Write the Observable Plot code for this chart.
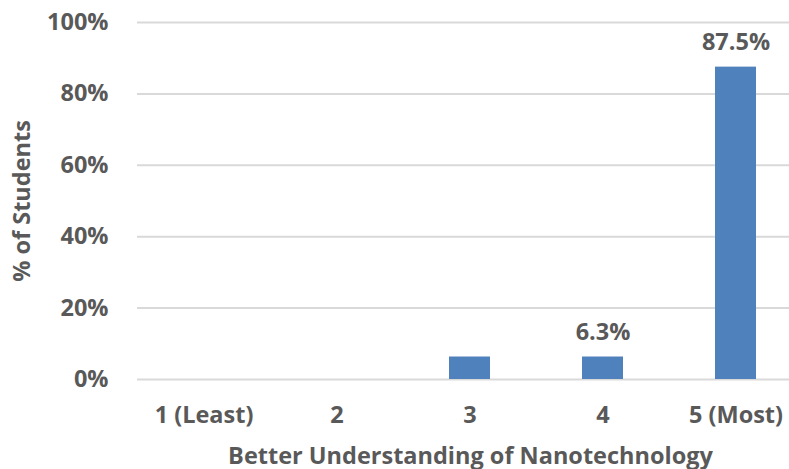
<!DOCTYPE html>
<html>
<head>
<meta charset="utf-8">
<script src="https://cdn.jsdelivr.net/npm/d3@7"></script>
<script src="https://cdn.jsdelivr.net/npm/@observablehq/plot@0.6"></script>
<style>
  html, body { margin: 0; padding: 0; background: #ffffff; }
  #chart svg { display: block; overflow: visible; }
</style>
</head>
<body>
<div id="chart"></div>
<script>
// Survey responses: share of students reporting a better understanding
const categories = ["1 (Least)", "2", "3", "4", "5 (Most)"];
const percents = [0, 0, 6.3, 6.3, 87.5];
const showLabel = [false, false, false, true, true];
const yTicks = [0, 20, 40, 60, 80, 100];
const xTitle = "Better Understanding of Nanotechnology";
const yTitle = "% of Students";

const rows = categories.map((c, i) => ({category: c, pct: percents[i], labeled: showLabel[i]}));

const textColor = "#595959";
const gridColor = "#d9d9d9";
const barColor = "#4f81bd";
const font = "'Open Sans', sans-serif";
const fs = 23.5;

const chart = Plot.plot({
  width: 789,
  height: 469,
  marginLeft: 137,
  marginRight: 0,
  marginTop: 22,
  marginBottom: 90,
  style: {fontFamily: font, fontWeight: "bold", color: textColor, background: "#ffffff"},
  x: {domain: categories, range: [137, 802], paddingInner: 0.69, paddingOuter: 0.345, align: 0.5, label: null},
  y: {domain: [0, 100], label: null},
  marks: [
    Plot.ruleY(yTicks, {stroke: gridColor, strokeWidth: 2}),
    Plot.barY(rows, {x: "category", y: "pct", fill: barColor}),
    Plot.text(rows.filter(d => d.labeled), {
      x: "category", y: "pct", text: d => d.pct.toFixed(1) + "%",
      dy: -25, fontSize: fs, fontWeight: "bold", fill: textColor
    }),
    Plot.axisY({ticks: yTicks, tickFormat: d => d + "%", tickSize: 0, tickPadding: 29,
      fontSize: fs, fontWeight: "bold", fill: textColor, label: null}),
    Plot.axisX({tickSize: 0, tickPadding: 27, fontSize: fs, fontWeight: "bold", fill: textColor, label: null}),
    Plot.text([xTitle], {frameAnchor: "bottom", dx: 7, dy: 84, fontSize: fs, fontWeight: "bold", fill: textColor}),
    Plot.text([yTitle], {frameAnchor: "left", textAnchor: "middle", rotate: -90, dx: -115, fontSize: fs, fontWeight: "bold", fill: textColor})
  ]
});

document.getElementById("chart").appendChild(chart);
</script>
</body>
</html>
